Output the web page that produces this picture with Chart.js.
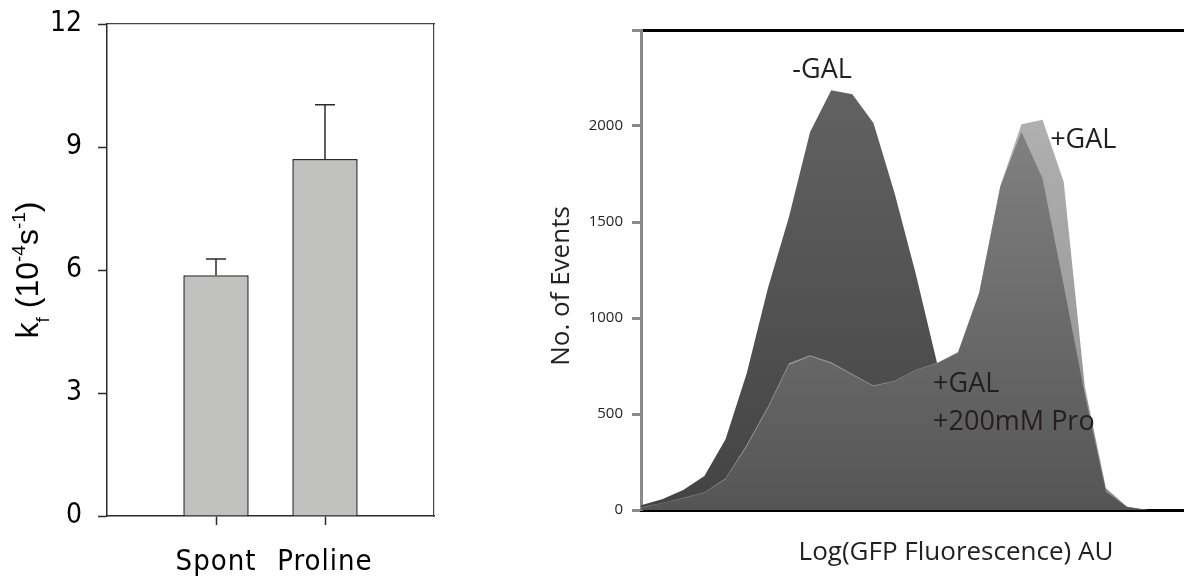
<!DOCTYPE html>
<html>
<head>
<meta charset="utf-8">
<script src="https://cdn.jsdelivr.net/npm/chart.js@4.4.1/dist/chart.umd.min.js"></script>
<style>
  html, body { margin: 0; padding: 0; background: #fff; overflow: hidden; width: 1184px; height: 579px; }
  #left { position: absolute; left: 0; top: 0; width: 470px; height: 579px; }
  #right { position: absolute; left: 540px; top: 0; width: 660px; height: 579px; }
</style>
</head>
<body>
<div id="left"><canvas id="rateChart"></canvas></div>
<div id="right"><canvas id="histChart"></canvas></div>
<script>
// left panel: folding rate constants
const rateLabels = ['', 'Spont', 'Proline', ''];
const rateValues = [null, 5.87, 8.71, null];
const rateErrors = [null, 0.40, 1.32, null];

// right panel: GFP fluorescence histograms
const bins = [1, 2, 3, 4, 5, 6, 7, 8, 9, 10, 11, 12, 13, 14, 15, 16, 17, 18, 19, 20, 21, 22, 23, 24, 25, 26, 27];
const minusGal   = [25, 56, 104, 177, 368, 711, 1154, 1526, 1969, 2186, 2165, 2016, 1650, 1230, 770, 380, 130, 45, 15, 5, 0, 0, 0, 0, 0, 0, 0];
const plusGal    = [14, 37, 64, 93, 165, 340, 538, 764, 806, 770, 708, 648, 673, 731, 766, 823, 1133, 1688, 2009, 2033, 1709, 640, 113, 17, 0, 0, 0];
const plusGalPro = [12, 35, 61, 90, 160, 330, 529, 755, 801, 763, 703, 645, 671, 729, 763, 819, 1128, 1683, 1969, 1726, 1170, 600, 95, 15, 0, 0, 0];
const countTicks = [0, 500, 1000, 1500, 2000];

// curve labels, placed in data units (bin index, count)
const curveNotes = [
  { text: '-GAL', bin: 7.16, count: 2248 },
  { text: '+GAL', bin: 19.36, count: 1884 },
  { text: '+GAL', bin: 13.82, count: 614 },
  { text: '+200mM Pro', bin: 13.82, count: 416 }
];

const narrow = "'Liberation Sans Narrow', 'DejaVu Sans Condensed', sans-serif";

// category axis whose labels are letter-spaced like the original
class SpacedCategoryScale extends Chart.CategoryScale {
  drawLabels(area) {
    const ctx = this.ctx;
    ctx.save();
    ctx.letterSpacing = '1px';
    super.drawLabels(area);
    ctx.restore();
  }
}
SpacedCategoryScale.id = 'spacedCategory';
SpacedCategoryScale.defaults = Chart.CategoryScale.defaults;
Chart.register(SpacedCategoryScale);

// keep label overhang from moving the plot area
function noOverhang(s) {
  s.paddingTop = 0;
  s.paddingBottom = 0;
  s.paddingLeft = 0;
  s.paddingRight = 0;
}

function drawRichText(ctx, parts, x, y, angle, family, color) {
  ctx.save();
  ctx.translate(x, y);
  ctx.rotate(angle);
  ctx.fillStyle = color;
  ctx.textAlign = 'left';
  ctx.textBaseline = 'alphabetic';
  let total = 0;
  parts.forEach(p => {
    ctx.font = p.size + 'px ' + family;
    p.w = ctx.measureText(p.text).width;
    total += p.w;
  });
  let cx = -total / 2;
  parts.forEach(p => {
    ctx.font = p.size + 'px ' + family;
    ctx.fillText(p.text, cx, p.dy || 0);
    cx += p.w;
  });
  ctx.restore();
}

const errorBars = {
  id: 'errorBars',
  afterDatasetsDraw(chart) {
    const { ctx, scales: { x, y } } = chart;
    ctx.save();
    ctx.strokeStyle = '#2b2b2b';
    ctx.lineWidth = 1.5;
    rateValues.forEach((v, i) => {
      if (v == null) return;
      const px = x.getPixelForValue(i);
      const base = y.getPixelForValue(v);
      const top = y.getPixelForValue(v + rateErrors[i]);
      ctx.beginPath();
      ctx.moveTo(px, base);
      ctx.lineTo(px, top);
      ctx.moveTo(px - 10, top);
      ctx.lineTo(px + 10, top);
      ctx.stroke();
    });
    ctx.restore();
  }
};

const rateTitle = {
  id: 'rateTitle',
  afterDraw(chart) {
    const a = chart.chartArea;
    drawRichText(chart.ctx, [
      { text: 'k', size: 32 },
      { text: 'f', size: 19, dy: 11 },
      { text: ' (10', size: 32 },
      { text: '-4', size: 19, dy: -13 },
      { text: 's', size: 32 },
      { text: '-1', size: 19, dy: -13 },
      { text: ')', size: 32 }
    ], 38, (a.top + a.bottom) / 2, -Math.PI / 2, "'Liberation Sans', Arial, sans-serif", '#000');
  }
};

new Chart(document.getElementById('rateChart'), {
  type: 'bar',
  data: {
    labels: rateLabels,
    datasets: [{
      data: rateValues,
      backgroundColor: '#c1c1bf',
      borderColor: '#2b2b2b',
      borderWidth: 1.5,
      barPercentage: 0.6,
      categoryPercentage: 1.0
    }]
  },
  options: {
    responsive: true,
    maintainAspectRatio: false,
    animation: false,
    layout: { padding: { left: 0, top: 24, right: 36, bottom: 0 } },
    plugins: { legend: { display: false }, tooltip: { enabled: false } },
    scales: {
      x: {
        type: 'spacedCategory',
        offset: false,
        grid: {
          offset: false,
          drawOnChartArea: false,
          tickLength: 9,
          tickWidth: 1.5,
          tickColor: c => rateLabels[c.index] ? '#2b2b2b' : 'rgba(0,0,0,0)'
        },
        border: { color: '#2b2b2b', width: 1.5 },
        ticks: { font: { family: narrow, size: 29 }, color: '#000', padding: 20, maxRotation: 0, autoSkip: false },
        afterFit(s) { noOverhang(s); s.height = 63; }
      },
      xTop: {
        type: 'category',
        position: 'top',
        offset: false,
        grid: { display: false },
        ticks: { display: false },
        border: { color: '#444', width: 1.2 },
        afterFit(s) { noOverhang(s); s.height = 0; }
      },
      y: {
        min: 0,
        max: 12,
        ticks: { stepSize: 3, font: { family: narrow, size: 28 }, color: '#000', padding: 16 },
        grid: { drawOnChartArea: false, tickLength: 9, tickWidth: 1.5, tickColor: '#2b2b2b' },
        border: { color: '#2b2b2b', width: 1.5 },
        afterFit(s) { noOverhang(s); s.width = 107; }
      },
      yRight: {
        position: 'right',
        min: 0,
        max: 12,
        grid: { display: false },
        ticks: { display: false },
        border: { color: '#444', width: 1.2 },
        afterFit(s) { noOverhang(s); s.width = 0; }
      }
    }
  },
  plugins: [errorBars, rateTitle]
});

function shade(top, bottom) {
  return c => {
    const chart = c.chart;
    const a = chart.chartArea;
    if (!a) return bottom;
    const g = chart.ctx.createLinearGradient(0, a.top, 0, a.bottom);
    g.addColorStop(0, top);
    g.addColorStop(1, bottom);
    return g;
  };
}

const histText = {
  id: 'histText',
  afterDraw(chart) {
    const { ctx, scales: { x, y } } = chart;
    const sans = "'Open Sans', sans-serif";
    ctx.save();
    ctx.fillStyle = '#231f20';
    ctx.font = '27px ' + sans;
    ctx.textAlign = 'left';
    ctx.textBaseline = 'alphabetic';
    curveNotes.forEach(n => {
      ctx.fillText(n.text, x.getPixelForValue(n.bin), y.getPixelForValue(n.count));
    });
    ctx.restore();
    drawRichText(ctx, [{ text: 'No. of Events', size: 26 }], 29, 286, -Math.PI / 2, sans, '#231f20');
    drawRichText(ctx, [{ text: 'Log(GFP Fluorescence) AU', size: 26 }], 416, 560, 0, sans, '#231f20');
  }
};

const area = { fill: 'origin', pointRadius: 0, borderWidth: 0, borderColor: 'rgba(0,0,0,0)', tension: 0 };

new Chart(document.getElementById('histChart'), {
  type: 'line',
  data: {
    labels: bins,
    datasets: [
      Object.assign({ label: '+GAL +200mM Pro', data: plusGalPro, backgroundColor: shade('#8c8c8c', '#555555') }, area),
      Object.assign({ label: '+GAL', data: plusGal, backgroundColor: shade('#b8b8b8', '#8c8c8c') }, area),
      Object.assign({ label: '-GAL', data: minusGal, backgroundColor: shade('#666666', '#434343') }, area)
    ]
  },
  options: {
    responsive: true,
    maintainAspectRatio: false,
    animation: false,
    layout: { padding: { left: 0, top: 30, right: 9.5, bottom: 0 } },
    plugins: { legend: { display: false }, tooltip: { enabled: false } },
    scales: {
      x: {
        offset: false,
        grid: { display: false },
        ticks: { display: false },
        border: { color: '#000', width: 3 },
        afterFit(s) { noOverhang(s); s.height = 69; }
      },
      xTop: {
        type: 'category',
        position: 'top',
        offset: false,
        grid: { display: false },
        ticks: { display: false },
        border: { color: '#000', width: 3 },
        afterFit(s) { noOverhang(s); s.height = 0; }
      },
      y: {
        min: 0,
        max: 2500,
        ticks: {
          stepSize: 500,
          callback: v => countTicks.includes(v) ? v : '',
          font: { family: "'Open Sans', sans-serif", size: 15 },
          color: '#231f20',
          padding: 9
        },
        grid: { drawOnChartArea: false, tickLength: 9, tickWidth: 3, tickColor: '#8a8a8a' },
        border: { color: '#8a8a8a', width: 3 },
        afterFit(s) { noOverhang(s); s.width = 101; }
      }
    }
  },
  plugins: [histText]
});
</script>
</body>
</html>
